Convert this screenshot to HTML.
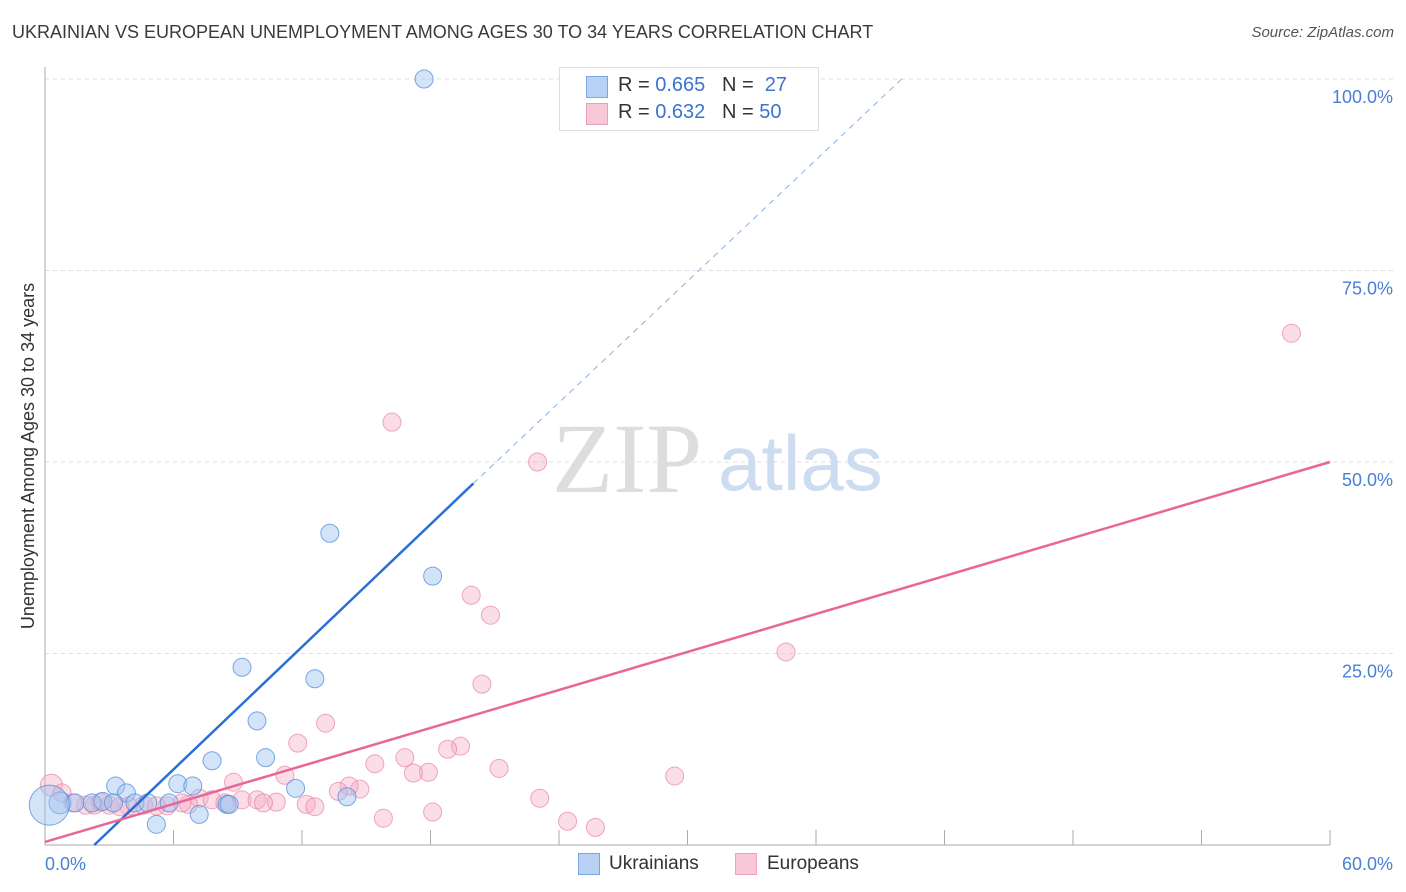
<!DOCTYPE html>
<html><head><meta charset="utf-8">
<style>
body{margin:0;background:#fff;font-family:"Liberation Sans",sans-serif;}
#wrap{position:relative;width:1406px;height:892px;overflow:hidden;}
.t{position:absolute;white-space:nowrap;}
</style></head>
<body>
<div id="wrap">
<div class="t" style="left:12px;top:22px;font-size:18px;color:#3a3a3a;">UKRAINIAN VS EUROPEAN UNEMPLOYMENT AMONG AGES 30 TO 34 YEARS CORRELATION CHART</div>
<div class="t" style="right:12px;top:24px;font-size:15px;color:#555;font-style:italic;">Source: ZipAtlas.com</div>
<svg id="svg" width="1406" height="892" style="position:absolute;left:0;top:0"></svg>
</div>
<script>
const yTicks=[25,50,75,100];
const yTickLabels=["25.0%","50.0%","75.0%","100.0%"];
const blueX=[17.7,13.3,18.1,9.2,12.6,9.9,7.8,10.3,6.2,6.9,3.3,3.8,11.7,14.1,0.7,1.4,2.2,2.7,4.2,4.8,5.8,8.5,8.6,5.2,7.2,3.2,0.2];
const blueY=[100,40.7,35.1,23.2,21.7,16.2,11,11.4,8,7.7,7.7,6.8,7.4,6.3,5.5,5.5,5.5,5.7,5.5,5.5,5.5,5.3,5.3,2.7,4,5.5,5.2];
const pinkX=[58.2,16.2,23,19.9,20.8,34.6,20.4,13.1,11.8,19.4,18.8,16.8,15.4,21.2,17.9,17.2,11.2,29.4,8.8,14.7,14.2,13.7,23.1,0.3,0.8,7.2,7.8,9.2,9.9,10.8,10.2,8.4,6.7,6.4,5.7,4.6,3.9,3,2.3,1.9,1.3,12.2,12.6,18.1,15.8,24.4,25.7,3.5,5.2,2.6];
const pinkY=[66.8,55.2,50,32.6,30,25.2,21,15.9,13.3,12.9,12.5,11.4,10.6,10,9.5,9.4,9.1,9,8.2,7.3,7.7,7,6.1,7.8,6.8,6.1,5.9,5.9,5.9,5.6,5.5,5.5,5.3,5.5,5.1,5.2,5.1,5.2,5.2,5.2,5.5,5.3,5,4.3,3.5,3.1,2.3,5,5.1,5.6];
const blueLine=[[2.3,0],[20,47.2],[40,100]];
const pinkLine=[[0,0.4],[60,50]];
const X=v=>45+v*1285/60, Y=v=>845-v*7.66;
const svg=document.getElementById('svg');const NS='http://www.w3.org/2000/svg';
function mk(t,a,name){const e=document.createElementNS(NS,t);for(const k in a)e.setAttribute(k,a[k]);


svg.appendChild(e);return e;}
yTicks.forEach((v,i)=>{
 mk('line',{x1:45,x2:1395,y1:Y(v),y2:Y(v),stroke:'#ddd','stroke-dasharray':'4,4'},'gridline');
 const t=mk('text',{x:1393,y:Y(v)+24,'text-anchor':'end','font-size':18,fill:'#4a7fd4','font-family':'Liberation Sans'},'y-tick-label');t.textContent=yTickLabels[i];
});
mk('line',{x1:45,x2:45,y1:67,y2:845,stroke:'#aaa'},'y-axis');
mk('line',{x1:45,x2:1330,y1:845,y2:845,stroke:'#aaa'},'x-axis');
for(let i=1;i<=10;i++){mk('line',{x1:X(i*6),x2:X(i*6),y1:830,y2:845,stroke:'#aaa'},'x-tick');}
let t=mk('text',{x:45,y:870,'font-size':18,fill:'#4a7fd4','font-family':'Liberation Sans'},'x-min-label');t.textContent='0.0%';
t=mk('text',{x:1393,y:870,'text-anchor':'end','font-size':18,fill:'#4a7fd4','font-family':'Liberation Sans'},'x-max-label');t.textContent='60.0%';
t=mk('text',{x:34,y:456,'text-anchor':'middle','font-size':18,fill:'#333','font-family':'Liberation Sans',transform:'rotate(-90 34 456)'},'y-axis-title');t.textContent='Unemployment Among Ages 30 to 34 years';
t=mk('text',{x:552,y:492,'font-size':100,fill:'#ddd','font-family':'Liberation Serif'},'watermark-zip');t.textContent='ZIP';
t=mk('text',{x:718,y:490,'font-size':78,fill:'#cddcf1','font-family':'Liberation Sans'},'watermark-atlas');t.textContent='atlas';
pinkX.forEach((x,i)=>mk('circle',{cx:X(x),cy:Y(pinkY[i]),r:i==23?11:9,fill:'rgba(245,170,195,0.4)',stroke:'rgba(232,130,165,0.7)'},'european-point'));
blueX.forEach((x,i)=>mk('circle',{cx:X(x),cy:Y(blueY[i]),r:i==26?20:(i==14?11:9),fill:'rgba(160,195,240,0.45)',stroke:'rgba(90,145,220,0.8)'},'ukrainian-point'));
mk('line',{x1:X(blueLine[0][0]),y1:Y(blueLine[0][1]),x2:X(blueLine[1][0]),y2:Y(blueLine[1][1]),stroke:'#2a6fd6','stroke-width':2.5},'ukrainian-trendline');
mk('line',{x1:X(blueLine[1][0]),y1:Y(blueLine[1][1]),x2:X(blueLine[2][0]),y2:Y(blueLine[2][1]),stroke:'#8ab0e0','stroke-width':1,'stroke-dasharray':'6,5'},'ukrainian-trendline-extension');
mk('line',{x1:X(pinkLine[0][0]),y1:Y(pinkLine[0][1]),x2:X(pinkLine[1][0]),y2:Y(pinkLine[1][1]),stroke:'#e8669a','stroke-width':2.5},'european-trendline');
</script>
<div class="t" style="left:559px;top:67px;width:258px;height:62px;border:1px solid #ddd;background:#fff;">
 <div class="t" style="left:26px;top:8px;width:20px;height:20px;background:#b8d2f5;border:1px solid #7aa6e4;"></div>
 <div class="t" style="left:58px;top:6px;font-size:20px;color:#333;">R = <span style="color:#3a74d0">0.665</span>&nbsp;&nbsp;&nbsp;N = &nbsp;<span style="color:#3a74d0">27</span></div>
 <div class="t" style="left:26px;top:35px;width:20px;height:20px;background:#f9c8d6;border:1px solid #eda0ba;"></div>
 <div class="t" style="left:58px;top:33px;font-size:20px;color:#333;">R = <span style="color:#3a74d0">0.632</span>&nbsp;&nbsp;&nbsp;N = <span style="color:#3a74d0">50</span></div>
</div>
<div class="t" style="left:578px;top:853px;width:20px;height:20px;background:#b8d2f5;border:1px solid #7aa6e4;"></div>
<div class="t" style="left:609px;top:853px;font-size:19px;color:#333;">Ukrainians</div>
<div class="t" style="left:735px;top:853px;width:20px;height:20px;background:#f9c8d6;border:1px solid #eda0ba;"></div>
<div class="t" style="left:767px;top:853px;font-size:19px;color:#333;">Europeans</div>
</body></html>
